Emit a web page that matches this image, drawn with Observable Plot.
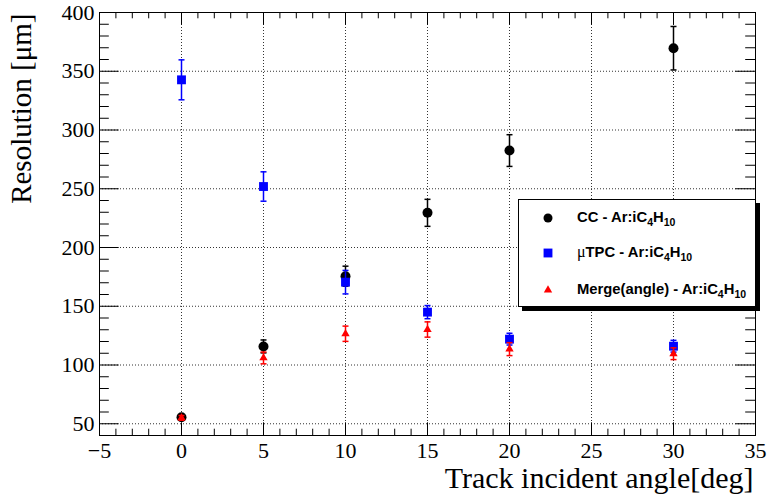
<!DOCTYPE html>
<html><head><meta charset="utf-8">
<script src="https://cdn.jsdelivr.net/npm/d3@7"></script>
<script src="https://cdn.jsdelivr.net/npm/@observablehq/plot@0.6"></script>
<style>
body{margin:0;background:#fff;}
#wrap{position:relative;width:769px;height:503px;}
#legend{position:absolute;left:518px;top:199px;width:238px;height:108px;border:1px solid #000;background:#fff;box-shadow:4px 4px 0 0 #000;box-sizing:border-box;font-family:"Liberation Sans",Arial,sans-serif;font-weight:bold;font-size:14.8px;color:#000;}
.lrow{position:absolute;left:0;width:100%;height:0;}
.lrow svg{position:absolute;left:22px;top:-7px;}
.lrow span{position:absolute;left:58px;top:-10px;white-space:nowrap;line-height:18px;}
.lrow sub{font-size:10.5px;vertical-align:-4px;line-height:0;}
.mu{font-weight:normal;font-family:"Liberation Serif",serif;font-size:16px;}
</style></head>
<body><div id="wrap"></div>
<script>
// ---- data ----
const angles   = [0, 5, 10, 15, 20, 30];
const ccRes    = [55.5, 115.8, 175.6, 229.5, 282.5, 369.6];
const ccErr    = [2, 5.5, 8.5, 11.5, 13.5, 18.5];
const tpcRes   = [342.7, 251.9, 170.5, 145, 122, 116];
const tpcErr   = [17, 12.5, 10, 5.6, 5, 5];
const mergeRes = [55, 106, 126.6, 130.2, 113.5, 109.6];
const mergeErr = [2, 5, 6.5, 6.5, 5.5, 5];
const seriesNames = ["CC - Ar:iC4H10", "μTPC - Ar:iC4H10", "Merge(angle) - Ar:iC4H10"];
const seriesColors = ["#000000", "#0000ff", "#ff0000"];
const seriesSymbols = ["circle", "square", "triangle"];
const xTicks = [-5, 0, 5, 10, 15, 20, 25, 30, 35];
const yTicks = [50, 100, 150, 200, 250, 300, 350, 400];
const xMinor = d3.range(-5, 35.5, 1);
const yMinor = d3.range(40, 400.5, 10);

const W = 769, H = 503, mL = 99, mR = 14, mT = 12, mB = 68;
const fw = W - mL - mR, fh = H - mT - mB;

const series = [
  {name: seriesNames[0], res: ccRes, err: ccErr, color: seriesColors[0], symbol: seriesSymbols[0], r: 5},
  {name: seriesNames[1], res: tpcRes, err: tpcErr, color: seriesColors[1], symbol: seriesSymbols[1], r: 5},
  {name: seriesNames[2], res: mergeRes, err: mergeErr, color: seriesColors[2], symbol: seriesSymbols[2], r: 3.1}
];

const capSymbol = {draw(ctx, size){ const r = Math.sqrt(size / Math.PI); ctx.moveTo(-r, 0); ctx.lineTo(r, 0); }};

const seriesMarks = series.flatMap(s => {
  const rows = angles.map((a, i) => ({a, v: s.res[i], lo: s.res[i] - s.err[i], hi: s.res[i] + s.err[i]}));
  return [
    Plot.ruleX(rows, {x: "a", y1: "lo", y2: "hi", stroke: s.color, strokeWidth: 1.5}),
    Plot.dot(rows, {x: "a", y: "lo", symbol: capSymbol, r: 3, stroke: s.color, strokeWidth: 1.5}),
    Plot.dot(rows, {x: "a", y: "hi", symbol: capSymbol, r: 3, stroke: s.color, strokeWidth: 1.5}),
    Plot.dot(rows, {x: "a", y: "v", symbol: s.symbol, r: s.r, fill: s.color, stroke: "none"})
  ];
});

const isMajorX = d => xTicks.includes(d);
const isMajorY = d => yTicks.includes(d);

const chart = Plot.plot({
  width: W, height: H,
  marginLeft: mL, marginRight: mR, marginTop: mT, marginBottom: mB,
  x: {domain: [-5, 35]},
  y: {domain: [40, 400]},
  style: {background: "white", color: "black"},
  marks: [
    Plot.gridX(xTicks.filter(d => d > -5 && d < 35), {stroke: "#333", strokeOpacity: 1, strokeDasharray: "1,2"}),
    Plot.gridY(yTicks.filter(d => d < 400), {stroke: "#333", strokeOpacity: 1, strokeDasharray: "1,2"}),
    // inward ticks, bottom & top
    Plot.ruleX(xMinor.filter(d => !isMajorX(d)), {x: d => d, insetTop: fh - 6.3, stroke: "black"}),
    Plot.ruleX(xTicks, {x: d => d, insetTop: fh - 12.7, stroke: "black"}),
    Plot.ruleX(xMinor.filter(d => !isMajorX(d)), {x: d => d, insetBottom: fh - 6.3, stroke: "black"}),
    Plot.ruleX(xTicks, {x: d => d, insetBottom: fh - 12.7, stroke: "black"}),
    // inward ticks, left & right
    Plot.ruleY(yMinor.filter(d => !isMajorY(d)), {y: d => d, insetRight: fw - 9.8, stroke: "black"}),
    Plot.ruleY(yTicks, {y: d => d, insetRight: fw - 19.7, stroke: "black"}),
    Plot.ruleY(yMinor.filter(d => !isMajorY(d)), {y: d => d, insetLeft: fw - 9.8, stroke: "black"}),
    Plot.ruleY(yTicks, {y: d => d, insetLeft: fw - 19.7, stroke: "black"}),
    Plot.axisX({ticks: xTicks, tickSize: 0, tickPadding: 7, fontSize: 22, fontFamily: "Liberation Serif", label: null}),
    Plot.axisY({ticks: yTicks, tickSize: 0, tickPadding: 5, fontSize: 22, fontFamily: "Liberation Serif", label: null}),
    ...seriesMarks,
    Plot.frame({stroke: "black", strokeWidth: 1}),
    Plot.text(["Track incident angle[deg]"], {frameAnchor: "bottom-right", textAnchor: "end", lineAnchor: "middle", dx: -2, dy: 43, fontSize: 30, fontFamily: "Liberation Serif", fill: "black"}),
    Plot.text(["Resolution [μm]"], {frameAnchor: "top-left", textAnchor: "end", lineAnchor: "middle", rotate: -90, dx: -78, dy: 1, fontSize: 29, fontFamily: "Liberation Serif", fill: "black"})
  ]
});

const wrap = document.getElementById("wrap");
wrap.appendChild(chart);

// legend (inside the frame, ROOT TLegend style)
const legend = document.createElement("div");
legend.id = "legend";
const rowY = [17.7, 53.3, 90.3];
const fmt = name => name
  .replace("μ", '<span class="mu" style="position:static">μ</span>')
  .replace("C4H10", "C<sub>4</sub>H<sub>10</sub>");
series.forEach((s, i) => {
  const row = document.createElement("div");
  row.className = "lrow";
  row.style.top = rowY[i] + "px";
  const sym = {circle: d3.symbolCircle, square: d3.symbolSquare, triangle: d3.symbolTriangle}[s.symbol];
  const lr = s.symbol === "circle" ? 4.5 : s.r;
  const path = d3.symbol(sym, lr * lr * Math.PI)();
  row.innerHTML = `<svg width="14" height="14" viewBox="-7 -7 14 14"><path d="${path}" fill="${s.color}"/></svg><span>${fmt(s.name)}</span>`;
  legend.appendChild(row);
});
wrap.appendChild(legend);
</script>
</body></html>
